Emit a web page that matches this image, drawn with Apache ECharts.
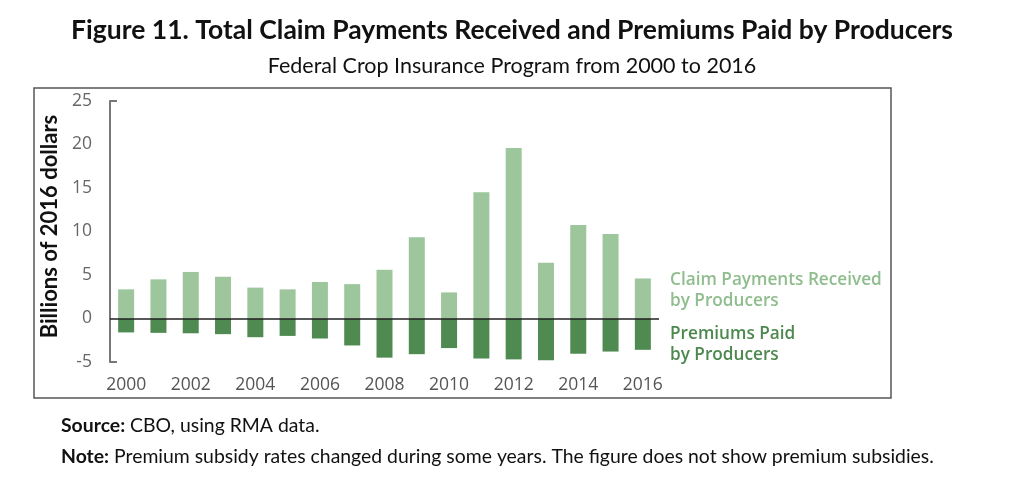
<!DOCTYPE html>
<html>
<head>
<meta charset="utf-8">
<script src="https://cdn.jsdelivr.net/npm/echarts@6/dist/echarts.min.js"></script>
<style>
html,body{margin:0;padding:0;background:#fff;}
#chart{width:1024px;height:481px;}
</style>
</head>
<body>
<div id="chart"></div>
<script>
var years = ['2000','2001','2002','2003','2004','2005','2006','2007','2008','2009','2010','2011','2012','2013','2014','2015','2016'];
var claimPayments = [3.35, 4.5, 5.35, 4.8, 3.55, 3.35, 4.2, 3.95, 5.6, 9.35, 3.0, 14.5, 19.6, 6.4, 10.75, 9.7, 4.6];
var premiumsPaid = [-1.6, -1.65, -1.7, -1.8, -2.15, -2.0, -2.3, -3.1, -4.5, -4.1, -3.4, -4.6, -4.7, -4.8, -4.05, -3.8, -3.6];
var yTicks = [-5, 0, 5, 10, 15, 20, 25];

var titleText = 'Figure 11. Total Claim Payments Received and Premiums Paid by Producers';
var subtitleText = 'Federal Crop Insurance Program from 2000 to 2016';
var yAxisName = 'Billions of 2016 dollars';
var claimLabel = ['Claim Payments Received', 'by Producers'];
var premiumLabel = ['Premiums Paid', 'by Producers'];

var LIGHT = '#9dc69c';
var DARK = '#4f8a51';

var chart = echarts.init(document.getElementById('chart'));
chart.setOption({
  animation: false,
  backgroundColor: '#fff',
  title: [
    {text: titleText, left: 'center', top: 12,
     textStyle: {fontFamily: 'Lato', fontWeight: 'bold', fontSize: 26.5, color: '#111'}},
    {text: subtitleText, left: 'center', top: 50,
     textStyle: {fontFamily: 'Lato', fontWeight: 'normal', fontSize: 21.5, color: '#111'}}
  ],
  grid: {left: 110, right: 365, top: 101, bottom: 119, containLabel: false},
  xAxis: {
    type: 'category',
    data: years,
    axisLine: {show: false, onZero: false},
    axisTick: {show: false},
    axisLabel: {interval: 1, margin: 14, fontFamily: 'Open Sans', fontSize: 17.5, color: '#555'}
  },
  yAxis: {
    type: 'value',
    min: yTicks[0], max: yTicks[yTicks.length - 1], interval: 5,
    name: yAxisName,
    nameLocation: 'middle',
    nameGap: 47,
    nameTextStyle: {fontFamily: 'Lato', fontWeight: 'bold', fontSize: 22, color: '#111', padding: [0, 0, 0, 10]},
    axisLine: {show: true, lineStyle: {color: '#777', width: 2}},
    axisTick: {show: true, inside: true, length: 7, customValues: [yTicks[0], yTicks[yTicks.length - 1]], lineStyle: {color: '#777', width: 2}},
    splitLine: {show: false},
    axisLabel: {margin: 18, fontFamily: 'Open Sans', fontSize: 17.5, color: '#666'}
  },
  series: [
    {
      name: claimLabel.join(' '),
      type: 'bar',
      stack: 'total',
      data: claimPayments,
      barWidth: 16,
      itemStyle: {color: LIGHT},
      markLine: {
        silent: true,
        symbol: 'none',
        label: {show: false},
        lineStyle: {color: '#222', width: 1.5, type: 'solid'},
        data: [{yAxis: 0}]
      }
    },
    {
      name: premiumLabel.join(' '),
      type: 'bar',
      stack: 'total',
      data: premiumsPaid,
      barWidth: 16,
      itemStyle: {color: DARK}
    }
  ],
  graphic: [
    {type: 'rect', shape: {x: 34, y: 88, width: 857, height: 310}, style: {fill: 'none', stroke: '#555', lineWidth: 1.5}, silent: true, z: -1},
    {type: 'text', left: 670, top: 270, style: {text: claimLabel.join('\n'), fill: '#8fbd8e', font: '600 17.2px "Open Sans"', lineHeight: 21}},
    {type: 'text', left: 670, top: 324, style: {text: premiumLabel.join('\n'), fill: '#4d894f', font: '600 17.2px "Open Sans"', lineHeight: 21}},
    {type: 'text', left: 61, top: 416, style: {text: '{b|Source:} CBO, using RMA data.', rich: {b: {fontWeight: 'bold', fontFamily: 'Lato', fontSize: 19.4, fill: '#111'}}, font: '19.4px Lato', fill: '#111'}},
    {type: 'text', left: 61, top: 447, style: {text: '{b|Note:} Premium subsidy rates changed during some years. The figure does not show premium subsidies.', rich: {b: {fontWeight: 'bold', fontFamily: 'Lato', fontSize: 19.4, fill: '#111'}}, font: '19.4px Lato', fill: '#111'}}
  ]
});
</script>
</body>
</html>
